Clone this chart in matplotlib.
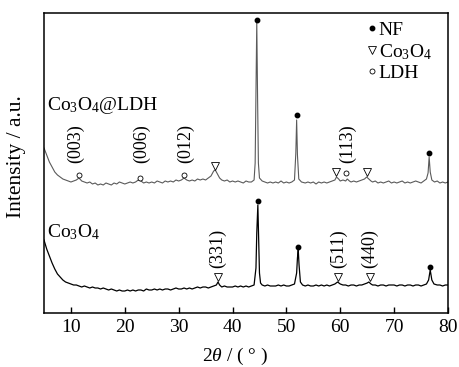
import matplotlib
matplotlib.use('Agg')
import matplotlib.pyplot as plt
from matplotlib.lines import Line2D

plt.rcParams['font.family'] = ['Liberation Serif', 'DejaVu Serif']
plt.rcParams['mathtext.fontset'] = 'custom'
plt.rcParams['mathtext.rm'] = 'Liberation Serif'
plt.rcParams['mathtext.it'] = 'Liberation Serif:italic'

# Co3O4@LDH pattern (upper curve), intensity in arbitrary units
tth_top = [5.0, 5.5, 6.0, 6.5, 7.0, 7.5, 8.0, 8.5, 9.0, 9.5, 10.0, 10.5, 11.0, 11.5, 12.0,
           12.5, 13.0, 13.5, 14.0, 14.5, 15.0, 15.5, 16.0, 16.5, 17.0, 17.5, 18.0, 18.5, 19.0,
           19.5, 20.0, 20.5, 21.0, 21.5, 22.0, 22.5, 23.0, 23.5, 24.0, 24.5, 25.0, 25.5, 26.0,
           26.5, 27.0, 27.5, 28.0, 28.5, 29.0, 29.5, 30.0, 30.5, 31.0, 31.5, 32.0, 32.5, 33.0,
           33.5, 34.0, 34.5, 35.0, 35.5, 36.0, 36.5, 36.8, 37.2, 37.6, 38.0, 38.5, 39.0, 39.5,
           40.0, 40.5, 41.0, 41.5, 42.0, 42.5, 43.0, 43.5, 44.0, 44.2, 44.35, 44.5, 44.65, 44.8,
           45.0, 45.5, 46.0, 46.5, 47.0, 47.5, 48.0, 48.5, 49.0, 49.5, 50.0, 50.5, 51.0, 51.5,
           51.75, 51.9, 52.05, 52.3, 52.8, 53.5, 54.0, 54.5, 55.0, 55.5, 56.0, 56.5, 57.0, 57.5,
           58.0, 58.5, 59.0, 59.3, 59.7, 60.0, 60.5, 61.0, 61.3, 61.7, 62.0, 62.5, 63.0, 63.5,
           64.0, 64.5, 64.9, 65.3, 65.7, 66.0, 66.5, 67.0, 67.5, 68.0, 68.5, 69.0, 69.5, 70.0,
           70.5, 71.0, 71.5, 72.0, 72.5, 73.0, 73.5, 74.0, 74.5, 75.0, 75.5, 76.0, 76.3, 76.5,
           76.7, 77.0, 77.5, 78.0, 78.5, 79.0, 79.5, 80.0]
int_top = [165, 158, 151, 146, 141, 138, 136, 134, 133, 132, 131, 132, 133, 135, 132,
           131, 130, 131, 129, 130, 128, 129, 128, 130, 129, 128, 130, 129, 131,
           130, 129, 130, 131, 130, 131, 133, 132, 130, 131, 130, 131, 130, 132,
           131, 130, 132, 131, 132, 131, 133, 132, 133, 135, 133, 132, 133, 132,
           134, 133, 134, 133, 135, 137, 142, 143, 139, 135, 133, 132, 133, 131,
           132, 131, 132, 131, 130, 132, 131, 131, 133, 150, 220, 291, 215, 150,
           135, 132, 131, 130, 131, 130, 131, 130, 132, 130, 131, 130, 131, 133,
           160, 193, 158, 134, 131, 130, 131, 130, 131, 129, 131, 130, 131, 130,
           131, 132, 133, 136, 134, 132, 133, 132, 134, 132, 131, 132, 131, 132,
           133, 134, 136, 134, 132, 131, 132, 130, 131, 130, 131, 132, 130, 131,
           130, 131, 132, 130, 131, 130, 131, 132, 131, 130, 132, 134, 140, 156,
           141, 133, 131, 132, 130, 131, 130, 131]

# Co3O4 pattern (lower curve)
tth_bot = [5.0, 5.5, 6.0, 6.5, 7.0, 7.5, 8.0, 8.5, 9.0, 9.5, 10.0, 10.5, 11.0, 11.5, 12.0,
           12.5, 13.0, 13.5, 14.0, 14.5, 15.0, 15.5, 16.0, 16.5, 17.0, 17.5, 18.0, 18.5, 19.0,
           19.5, 20.0, 20.5, 21.0, 21.5, 22.0, 22.5, 23.0, 23.5, 24.0, 24.5, 25.0, 25.5, 26.0,
           26.5, 27.0, 27.5, 28.0, 28.5, 29.0, 29.5, 30.0, 30.5, 31.0, 31.5, 32.0, 32.5, 33.0,
           33.5, 34.0, 34.5, 35.0, 35.5, 36.0, 36.5, 37.0, 37.3, 37.6, 38.0, 38.5, 39.0, 39.5,
           40.0, 40.5, 41.0, 41.5, 42.0, 42.5, 43.0, 43.5, 44.0, 44.35, 44.5, 44.7, 44.85, 45.0,
           45.2, 45.5, 46.0, 46.5, 47.0, 47.5, 48.0, 48.5, 49.0, 49.5, 50.0, 50.5, 51.0, 51.5,
           51.9, 52.05, 52.2, 52.35, 52.6, 53.0, 53.5, 54.0, 54.5, 55.0, 55.5, 56.0, 56.5, 57.0,
           57.5, 58.0, 58.5, 59.0, 59.5, 60.0, 60.5, 61.0, 61.5, 62.0, 62.5, 63.0, 63.5, 64.0,
           64.5, 65.0, 65.3, 65.7, 66.0, 66.5, 67.0, 67.5, 68.0, 68.5, 69.0, 69.5, 70.0, 70.5,
           71.0, 71.5, 72.0, 72.5, 73.0, 73.5, 74.0, 74.5, 75.0, 75.5, 76.0, 76.4, 76.7, 77.0,
           77.4, 78.0, 78.5, 79.0, 79.5, 80.0]
int_bot = [73, 64, 57, 50, 44, 39, 36, 33, 31, 30, 29, 28, 28, 27, 26,
           27, 26, 25, 26, 25, 25, 24, 25, 24, 23, 24, 23, 22, 23,
           22, 22, 23, 22, 23, 22, 23, 23, 22, 24, 23, 23, 24, 23,
           24, 23, 24, 24, 23, 24, 25, 24, 24, 25, 24, 25, 24, 25,
           26, 25, 26, 26, 25, 26, 27, 28, 31, 28, 26, 27, 26, 26,
           26, 27, 26, 27, 26, 27, 26, 27, 28, 45, 80, 108, 75, 40,
           30, 28, 27, 28, 27, 27, 27, 28, 27, 28, 27, 27, 28, 29,
           40, 55, 63, 48, 31, 28, 27, 28, 27, 27, 28, 27, 28, 27,
           28, 27, 28, 29, 31, 29, 28, 28, 27, 28, 28, 27, 28, 28,
           29, 30, 31, 29, 28, 28, 27, 28, 28, 27, 28, 28, 28, 27,
           28, 28, 27, 28, 28, 27, 28, 28, 27, 28, 29, 33, 43, 33,
           29, 28, 28, 27, 28, 28]

# phase markers: (2theta, height)
nf_top_x = [44.5, 51.9, 76.5]
nf_top_y = [293, 198, 160]
nf_bot_x = [44.7, 52.2, 76.7]
nf_bot_y = [112, 66, 46]
co_top_x = [36.7, 59.2, 64.9]
co_top_y = [147, 141, 141]
co_bot_x = [37.3, 59.5, 65.5]
co_bot_y = [36, 36, 36]
ldh_top_x = [11.5, 22.8, 31.0, 61.1]
ldh_top_y = [138, 135, 138, 140]

# Miller index labels
hkl_top = ['(003)', '(006)', '(012)', '(113)']
hkl_top_x = [10.8, 23.2, 31.2, 61.3]
hkl_bot = ['(331)', '(511)', '(440)']
hkl_bot_x = [37.3, 59.6, 65.5]

fig = plt.figure(figsize=(4.59, 3.67), dpi=100)
ax = fig.add_axes([44 / 459, 54 / 367, 404 / 459, 300 / 367])

ax.plot(tth_top, int_top, color='#5a5a5a', lw=0.8)
ax.plot(tth_bot, int_bot, color='black', lw=0.9)

ax.plot(nf_top_x, nf_top_y, 'o', color='black', ms=3.2, ls='none')
ax.plot(nf_bot_x, nf_bot_y, 'o', color='black', ms=3.2, ls='none')
ax.plot(co_top_x, co_top_y, 'v', mfc='white', mec='black', mew=0.6, ms=6, ls='none')
ax.plot(co_bot_x, co_bot_y, 'v', mfc='white', mec='black', mew=0.6, ms=6, ls='none')
ax.plot(ldh_top_x, ldh_top_y, 'o', mfc='white', mec='black', mew=0.6, ms=3.6, ls='none')

for lab, x in zip(hkl_top, hkl_top_x):
    ax.text(x, 150, lab, rotation=90, ha='center', va='bottom', fontsize=13)
for lab, x in zip(hkl_bot, hkl_bot_x):
    ax.text(x, 45, lab, rotation=90, ha='center', va='bottom', fontsize=13)

ax.text(5.5, 207, r'Co$_3$O$_4$@LDH', ha='left', va='center', fontsize=14)
ax.text(5.5, 81, r'Co$_3$O$_4$', ha='left', va='center', fontsize=14)

handles = [
    Line2D([], [], marker='o', color='black', ms=3.2, ls='none'),
    Line2D([], [], marker='v', mfc='white', mec='black', mew=0.6, ms=6, ls='none'),
    Line2D([], [], marker='o', mfc='white', mec='black', mew=0.6, ms=3.6, ls='none'),
]
ax.legend(handles, ['NF', r'Co$_3$O$_4$', 'LDH'], loc='upper left',
          bbox_to_anchor=(0.768, 1.017), frameon=False, fontsize=14,
          handlelength=0.4, handletextpad=0.15, labelspacing=0.15, borderpad=0.2)

ax.set_xlim(5, 80)
ax.set_ylim(0, 300)
ax.set_xticks([10, 20, 30, 40, 50, 60, 70, 80])
ax.set_yticks([])
ax.tick_params(axis='x', direction='in', length=4, width=1, labelsize=14, pad=4)
for sp in ax.spines.values():
    sp.set_linewidth(1.1)

ax.set_xlabel(r'$2\theta$ / ( ° )', fontsize=14)
ax.xaxis.set_label_coords(0.473, -0.108)
ax.set_ylabel('Intensity / a.u.', fontsize=15.5)
ax.yaxis.set_label_coords(-0.045, 0.52)

fig.savefig('out.png', dpi=100)
